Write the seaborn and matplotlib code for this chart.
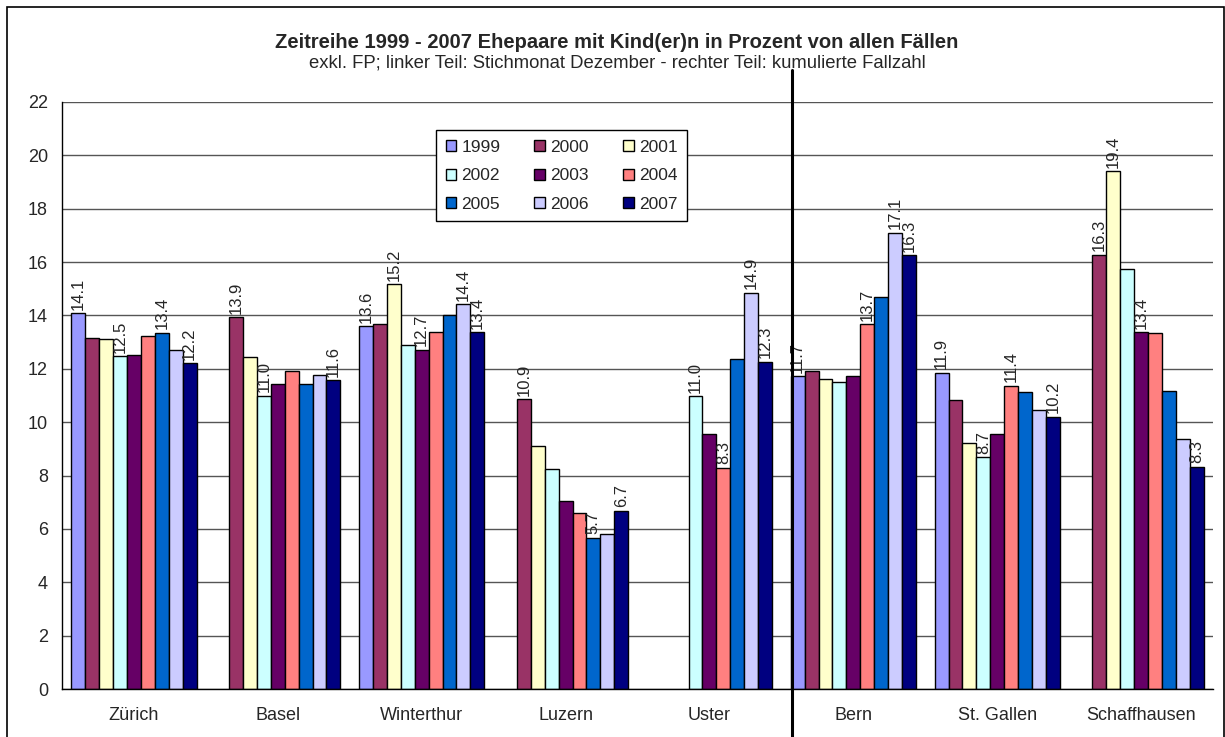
import numpy as np
import pandas as pd
import matplotlib
matplotlib.use("Agg")
import matplotlib.pyplot as plt
from matplotlib.lines import Line2D
from matplotlib.patches import Rectangle
import seaborn as sns

# ---------------- data ----------------
places = ["Zürich", "Basel", "Winterthur", "Luzern", "Uster", "Bern", "St. Gallen", "Schaffhausen"]
years = ["1999", "2000", "2001", "2002", "2003", "2004", "2005", "2006", "2007"]
nan = np.nan
v1999 = [14.08, nan, 13.59, nan, nan, 11.72, 11.86, nan]
v2000 = [13.14, 13.93, 13.68, 10.86, nan, 11.90, 10.83, 16.28]
v2001 = [13.12, 12.44, 15.17, 9.12, nan, 11.60, 9.22, 19.40]
v2002 = [12.48, 11.00, 12.90, 8.25, 10.98, 11.50, 8.68, 15.74]
v2003 = [12.50, 11.43, 12.72, 7.03, 9.56, 11.72, 9.56, 13.37]
v2004 = [13.22, 11.90, 13.38, 6.58, 8.30, 13.67, 11.37, 13.34]
v2005 = [13.36, 11.43, 14.00, 5.67, 12.36, 14.70, 11.13, 11.18]
v2006 = [12.70, 11.77, 14.43, 5.81, 14.86, 17.10, 10.47, 9.38]
v2007 = [12.20, 11.57, 13.37, 6.68, 12.26, 16.26, 10.20, 8.33]
series = [v1999, v2000, v2001, v2002, v2003, v2004, v2005, v2006, v2007]

# which bars carry a value label (1 = labelled)
lab1999 = [1, 0, 1, 0, 0, 1, 1, 0]
lab2000 = [0, 1, 0, 1, 0, 0, 0, 1]
lab2001 = [0, 0, 1, 0, 0, 0, 0, 1]
lab2002 = [1, 1, 0, 0, 1, 0, 1, 0]
lab2003 = [0, 0, 1, 0, 0, 0, 0, 1]
lab2004 = [0, 0, 0, 0, 1, 1, 1, 0]
lab2005 = [1, 0, 0, 1, 0, 0, 0, 0]
lab2006 = [0, 0, 1, 0, 1, 1, 0, 0]
lab2007 = [1, 1, 1, 1, 1, 1, 1, 1]
labels_mask = [lab1999, lab2000, lab2001, lab2002, lab2003, lab2004, lab2005, lab2006, lab2007]

colors = ["#9999FF", "#993366", "#FFFFCC", "#CCFFFF", "#660066",
          "#FF8080", "#0066CC", "#CCCCFF", "#000080"]

title = "Zeitreihe 1999 - 2007 Ehepaare mit Kind(er)n in Prozent von allen Fällen"
subtitle = "exkl. FP; linker Teil: Stichmonat Dezember - rechter Teil: kumulierte Fallzahl"
yticks = list(range(0, 23, 2))

rows = []
for y, vals in zip(years, series):
    for p, v in zip(places, vals):
        if not np.isnan(v):
            rows.append({"Ort": p, "Jahr": y, "Wert": v})
df = pd.DataFrame(rows)

# ---------------- plot ----------------
sns.set_style("white")
plt.rcParams["font.family"] = ["Liberation Sans", "DejaVu Sans"]

fig = plt.figure(figsize=(12.25, 7.37), dpi=100)
ax = fig.add_axes([62 / 1225, 1 - 689 / 737, (1213 - 62) / 1225, (689 - 102) / 737])

sns.barplot(data=df, x="Ort", y="Wert", hue="Jahr", order=places, hue_order=years,
            palette=colors, width=0.87, edgecolor="black", linewidth=1,
            saturation=1, errorbar=None, ax=ax)

ax.set_xlim(-0.5, len(places) - 0.5)
ax.set_ylim(0, 22)
ax.set_yticks(yticks)
ax.set_yticklabels([str(t) for t in yticks], fontsize=13)
ax.set_xticks(range(len(places)))
ax.set_xticklabels(places, fontsize=13)
ax.set_xlabel("")
ax.set_ylabel("")
ax.set_axisbelow(True)
ax.yaxis.grid(True, color="#555555", linewidth=1)
ax.xaxis.grid(False)

# category boundary ticks
ax.set_xticks(np.arange(-0.5, len(places) + 0.5, 1), minor=True)
ax.tick_params(axis="x", which="major", length=0, pad=13)
ax.tick_params(axis="x", which="minor", length=6, width=1, color="black", direction="out")
ax.tick_params(axis="y", length=5, width=1, color="black", direction="out", pad=5)
for s in ["top", "right"]:
    ax.spines[s].set_visible(False)
for s in ["left", "bottom"]:
    ax.spines[s].set_color("black")
    ax.spines[s].set_linewidth(1)

# value labels
for hi, cont in enumerate(ax.containers):
    for bar in cont:
        h = bar.get_height()
        if h is None or np.isnan(h):
            continue
        cx = bar.get_x() + bar.get_width() / 2
        ci = int(round(cx))
        if labels_mask[hi][ci]:
            ax.annotate(f"{h:.1f}", (cx, h), xytext=(0, 2.5), textcoords="offset points",
                        rotation=90, ha="center", va="bottom", fontsize=12)

# legend (row-major order like reference)
handles, labs = ax.get_legend_handles_labels()
order = [0, 3, 6, 1, 4, 7, 2, 5, 8]
leg = ax.legend([handles[i] for i in order], [labs[i] for i in order], ncol=3,
                loc="upper left", bbox_to_anchor=(0.325, 0.952), borderaxespad=0,
                fontsize=12.5, frameon=True, fancybox=False, edgecolor="black",
                framealpha=1, handlelength=0.62, handleheight=0.62, handletextpad=0.3,
                columnspacing=1.95, labelspacing=0.78, borderpad=0.55)
leg.get_frame().set_linewidth(1)

# titles
fig.text(617 / 1225, 1 - 42 / 737, title, ha="center", va="center",
         fontsize=14.5, fontweight="bold")
fig.text(617 / 1225, 1 - 63 / 737, subtitle, ha="center", va="center", fontsize=13.3)

# separator line between left and right part
fig.add_artist(Line2D([792 / 1225, 792 / 1225], [0, 1 - 70 / 737], color="black",
                      linewidth=2.2, transform=fig.transFigure))
# outer border
fig.add_artist(Rectangle((7 / 1225, -0.01), (1224 - 7) / 1225, 1 - 7 / 737 + 0.01,
                         fill=False, edgecolor="black", linewidth=1.2,
                         transform=fig.transFigure))

fig.savefig("out.png", dpi=100)
